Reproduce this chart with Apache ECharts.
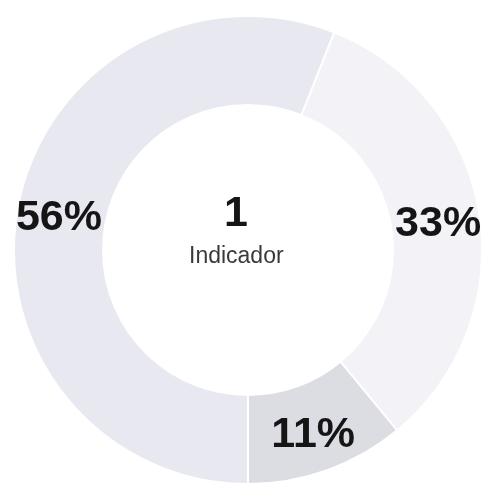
<!DOCTYPE html>
<html>
<head>
<meta charset="utf-8">
<script src="https://cdn.jsdelivr.net/npm/echarts@6/dist/echarts.min.js"></script>
<style>
  html, body { margin: 0; padding: 0; background: #ffffff; }
  #chart { width: 485px; height: 484px; }
</style>
</head>
<body>
<div id="chart"></div>
<script>
// Slices listed clockwise, starting just right of twelve o'clock
const categories = ['B', 'C', 'A'];
const values = [33, 11, 56];
const sliceColors = ['#f2f2f7', '#dcdce3', '#e8e8f0'];
const centerValue = '1';
const centerCaption = 'Indicador';

const chart = echarts.init(document.getElementById('chart'), null, { renderer: 'canvas' });

chart.setOption({
  backgroundColor: '#ffffff',
  animation: false,
  graphic: [
    {
      type: 'text',
      left: 224,
      top: 193,
      style: {
        text: centerValue,
        font: 'bold 43px "Liberation Sans", Arial, sans-serif',
        fill: '#151515'
      }
    },
    {
      type: 'text',
      left: 189,
      top: 245,
      style: {
        text: centerCaption,
        font: '23px "Liberation Sans", Arial, sans-serif',
        fill: '#3a3a3a'
      }
    }
  ],
  series: [
    {
      type: 'pie',
      center: [248, 250],
      radius: [145, 234],
      startAngle: 68.4,
      clockwise: true,
      avoidLabelOverlap: false,
      itemStyle: {
        borderColor: '#ffffff',
        borderWidth: 2
      },
      label: {
        show: true,
        position: 'inside',
        formatter: '{d}%',
        precision: 0,
        color: '#151515',
        fontFamily: '"Liberation Sans", Arial, sans-serif',
        fontWeight: 'bold',
        fontSize: 43,
        offset: [0, 4]
      },
      labelLine: { show: false },
      emphasis: { disabled: true },
      data: categories.map((name, i) => ({
        name: name,
        value: values[i],
        itemStyle: { color: sliceColors[i] }
      }))
    }
  ]
});
</script>
</body>
</html>
